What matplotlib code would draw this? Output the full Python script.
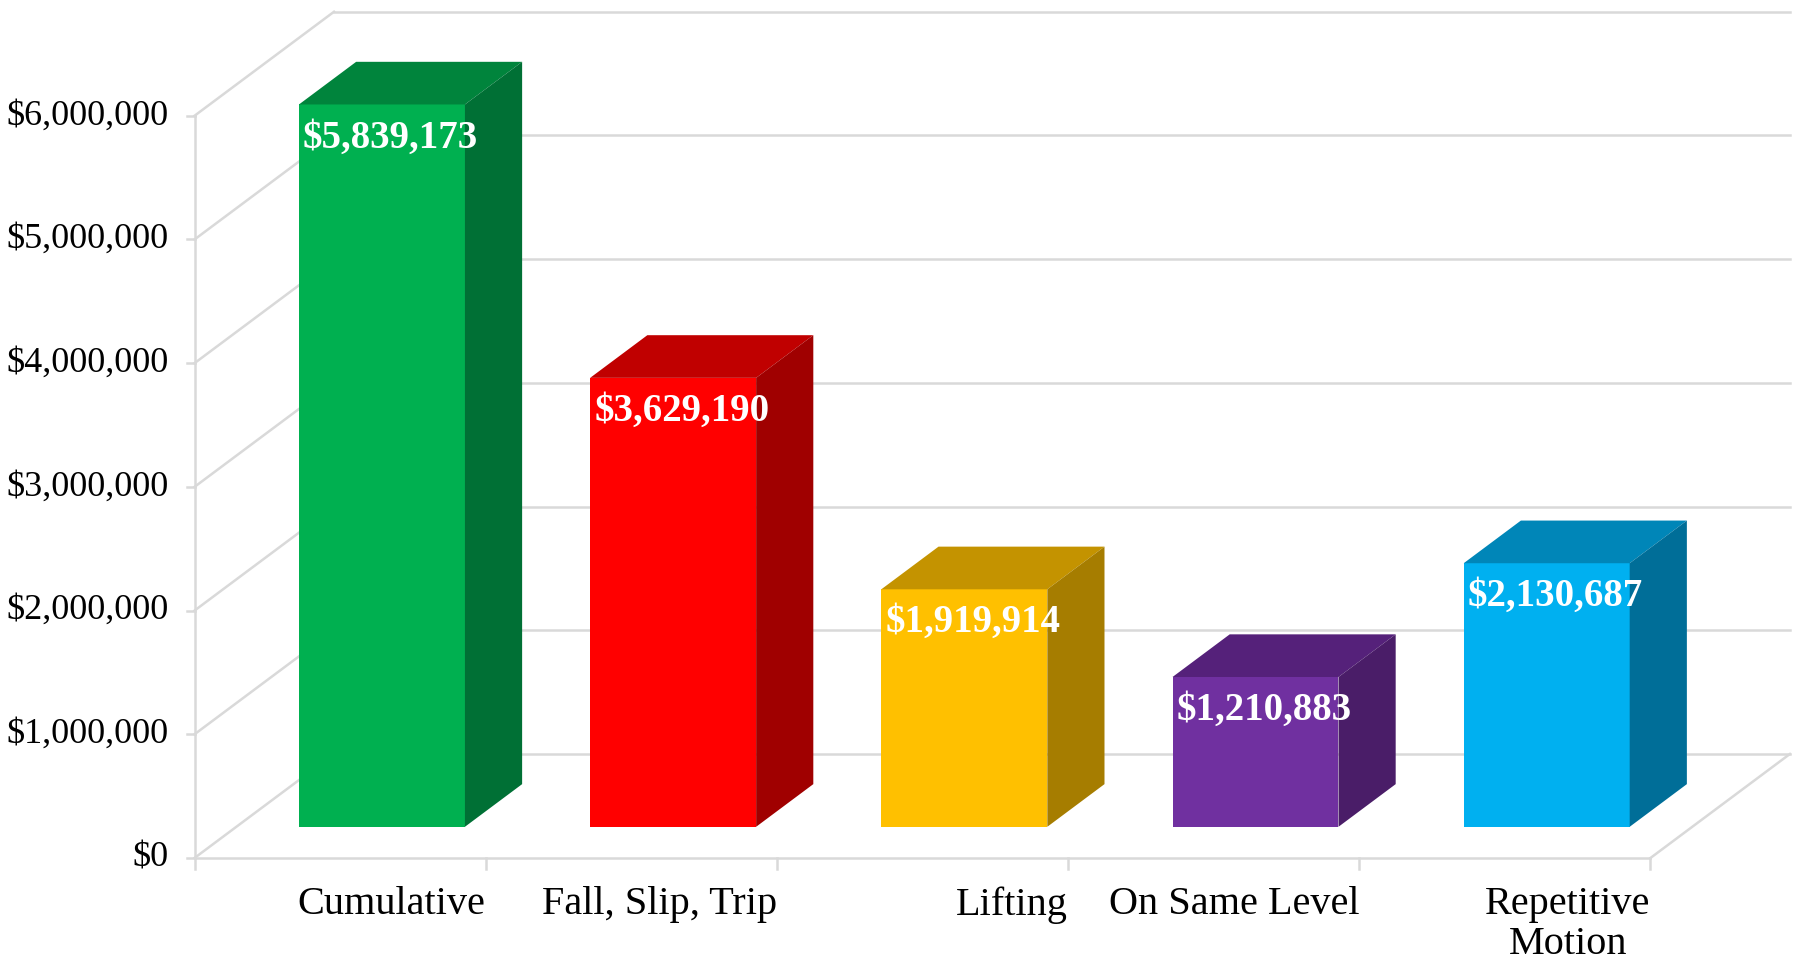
import matplotlib.pyplot as plt
from matplotlib.patches import Polygon

categories = ["Cumulative", "Fall, Slip, Trip", "Lifting", "On Same Level", "Repetitive\nMotion"]
costs = [5839173, 3629190, 1919914, 1210883, 2130687]
front_colors = ["#00B050", "#FF0000", "#FFC000", "#7030A0", "#00B0F0"]
top_colors = ["#00843C", "#C00000", "#C49300", "#55217A", "#0086B8"]
side_colors = ["#007035", "#A00000", "#A67D00", "#4A1D68", "#006E98"]
yticks = [0, 1000000, 2000000, 3000000, 4000000, 5000000, 6000000]

# oblique projection: one unit of depth shifts x by DX categories and y by DY dollars
DX = 0.479
DY = 841000
BAR_W = 0.57
BAR_FRONT = 0.30
BAR_DEPTH = 0.41
GRID = "#D9D9D9"
FONT = "Liberation Serif"


def proj(x, y, d):
    return (x + d * DX, y + d * DY)


fig = plt.figure(figsize=(17.94, 9.65), dpi=100)
ax = fig.add_axes([0, 0, 1, 1])
ax.set_xlim(-0.668, 5.493)
ax.set_ylim(-865000, 6936000)
ax.axis("off")

n = len(categories)
top = yticks[-1]

# back wall and left wall gridlines
for t in yticks:
    x0, y0 = proj(0, t, 1)
    x1, y1 = proj(n, t, 1)
    ax.plot([x0, x1], [y0, y1], color=GRID, lw=1.8, zorder=1)
    ax.plot([0, x0], [t, y0], color=GRID, lw=1.8, zorder=1)
    ax.plot([-0.027, 0], [t, t], color=GRID, lw=1.8, zorder=1)
    ax.text(-0.09, t, "${:,}".format(t), ha="right", va="center",
            fontsize=26, family=FONT, color="black")

# front axis and floor
ax.plot([0, 0], [0, top], color=GRID, lw=1.8, zorder=1)
ax.plot([0, n], [0, 0], color=GRID, lw=1.8, zorder=1)
xr, yr = proj(n, 0, 1)
ax.plot([n, xr], [0, yr], color=GRID, lw=1.8, zorder=1)
for i in range(n + 1):
    ax.plot([i, i], [0, -90000], color=GRID, lw=1.8, zorder=1)

# bars: front face with ax.bar, top and side faces as polygons
shift_x, shift_y = proj(0, 0, BAR_FRONT)
centers = [i + 0.5 + shift_x for i in range(n)]
ax.bar(centers, costs, width=BAR_W, bottom=shift_y, color=front_colors, zorder=3)
for i, v in enumerate(costs):
    left = centers[i] - BAR_W / 2
    right = centers[i] + BAR_W / 2
    y_top = shift_y + v
    dx, dy = BAR_DEPTH * DX, BAR_DEPTH * DY
    top_face = [(left, y_top), (right, y_top), (right + dx, y_top + dy), (left + dx, y_top + dy)]
    side_face = [(right, shift_y), (right + dx, shift_y + dy), (right + dx, y_top + dy), (right, y_top)]
    ax.add_patch(Polygon(top_face, closed=True, facecolor=top_colors[i], edgecolor="none", zorder=3))
    ax.add_patch(Polygon(side_face, closed=True, facecolor=side_colors[i], edgecolor="none", zorder=3))
    ax.text(centers[i] + 0.03, y_top - 270000, "${:,}".format(v), ha="center", va="center",
            fontsize=28, fontweight="bold", family=FONT, color="white", zorder=4)

# category labels sit flush right against the next tick
for i, name in enumerate(categories):
    ax.text(i + 1, -230000, name, ha="right", va="top", multialignment="center",
            linespacing=1.1, fontsize=29, family=FONT, color="black")

fig.savefig("out.png", dpi=100)
